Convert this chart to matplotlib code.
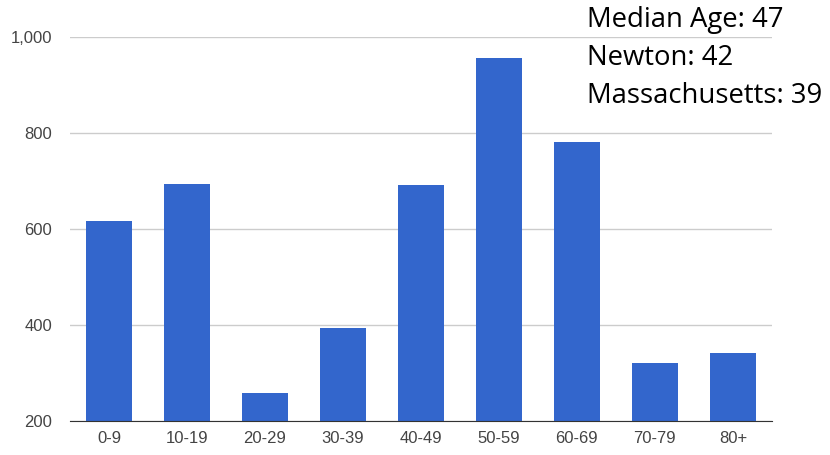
import matplotlib.pyplot as plt

ages = ["0-9", "10-19", "20-29", "30-39", "40-49", "50-59", "60-69", "70-79", "80+"]
people = [617, 694, 258, 394, 692, 956, 781, 321, 342]
notes = ["Median Age: 47", "Newton: 42", "Massachusetts: 39"]

plt.rcParams['font.family'] = ['Liberation Sans', 'DejaVu Sans']
fig = plt.figure(figsize=(8.3, 4.55), dpi=100)
ax = fig.add_axes([0.0843, 0.0747, 0.8457, 0.844])

exes = list(range(len(ages)))
ax.bar(exes, people, width=0.6, bottom=0, color="#3366cc", zorder=3)
ax.set_xlim(-0.5, len(ages) - 0.5)
ax.set_ylim(200, 1000)
ax.set_yticks([200, 400, 600, 800, 1000])
ax.set_yticklabels(["200", "400", "600", "800", "1,000"])
ax.set_xticks(exes)
ax.set_xticklabels(ages)
ax.tick_params(length=0, labelsize=12, labelcolor="#444444", pad=7)
ax.tick_params(axis="y", pad=13)
ax.grid(axis="y", color="#cccccc", linewidth=1, zorder=0)
for s in ["top", "right", "left"]:
    ax.spines[s].set_visible(False)
ax.spines["bottom"].set_color("#333333")
ax.spines["bottom"].set_zorder(4)

for i, t in enumerate(notes):
    fig.text(0.707, 1 - (20 + 38 * i) / 455, t, fontsize=19.8, family=["Open Sans", "DejaVu Sans"],
             color="black", va="center", ha="left")

plt.savefig("out.png")
